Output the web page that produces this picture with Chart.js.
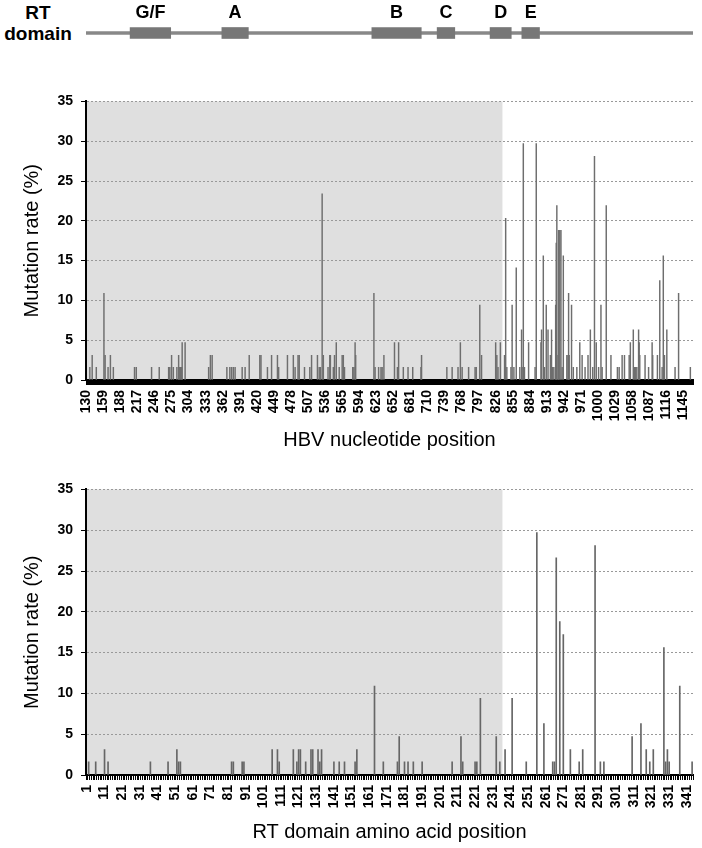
<!DOCTYPE html>
<html>
<head>
<meta charset="utf-8">
<script src="https://cdn.jsdelivr.net/npm/chart.js@4"></script>
<style>
  body { margin: 0; background: #fff; font-family: 'Liberation Sans', Arial, sans-serif; }
  #page { position: relative; width: 702px; height: 848px; }
  canvas { position: absolute; left: 0; }
  #rt { position: absolute; left: 0; top: 2px; width: 76px; text-align: center; font-weight: bold; font-size: 19px; line-height: 21px; }
</style>
</head>
<body>
<div id="page">
  <div id="rt">RT<br>domain</div>
  <canvas id="domain" width="702" height="50" style="top:0"></canvas>
  <canvas id="ntChart" width="702" height="367" style="top:85px"></canvas>
  <canvas id="aaChart" width="702" height="371" style="top:473px"></canvas>
</div>
<script>
// RT domain motifs (amino acid positions)
const motifNames = ['G/F', 'A', 'B', 'C', 'D', 'E'];
const motifStart = [26, 78, 163, 200, 230, 248];
const motifEnd = [48, 92, 190, 209, 241, 257];
const rtLength = 344;
const ntFirst = 130;

// nucleotide mutation rates (%)
const ntPositions = [136,140,147,160,162,167,171,176,212,215,241,254,270,272,275,278,284,287,288,290,292,293,298,
  338,341,344,369,374,377,380,383,395,400,407,425,427,438,445,455,457,472,482,485,490,492,501,510,513,523,526,528,
  531,533,541,544,545,550,552,555,560,565,567,569,583,585,587,588,619,621,627,631,633,636,654,659,661,669,677,685,
  699,700,743,752,762,766,769,780,791,793,799,802,826,828,830,834,841,843,845,852,854,857,861,867,870,871,873,875,
  882,893,895,903,904,907,909,912,915,919,921,923,925,928,929,930,932,933,935,937,939,941,947,949,950,951,955,958,
  964,969,973,978,983,987,991,994,997,1001,1005,1007,1014,1022,1033,1036,1041,1045,1053,1055,1060,1062,1064,1066,
  1069,1070,1071,1080,1086,1092,1093,1101,1105,1109,1111,1113,1117,1131,1137,1157];
const ntRates = [1.6,3.1,1.6,10.9,3.1,1.6,3.1,1.6,1.6,1.6,1.6,1.6,1.6,1.6,3.1,1.6,1.6,3.1,1.6,1.6,1.6,4.7,4.7,
  1.6,3.1,3.1,1.6,1.6,1.6,1.6,1.6,1.6,1.6,3.1,3.1,3.1,1.6,3.1,3.1,1.6,3.1,3.1,1.6,3.1,3.1,1.6,1.6,3.1,3.1,1.6,1.6,
  23.4,3.1,1.6,3.1,3.1,1.6,3.1,4.7,1.6,3.1,3.1,1.6,1.6,1.6,4.7,3.1,10.9,1.6,1.6,1.6,1.6,3.1,4.7,1.6,4.7,1.6,1.6,1.6,
  1.6,3.1,1.6,1.6,1.6,4.7,1.6,1.6,1.6,1.6,9.4,3.1,4.7,3.1,1.6,4.7,3.1,20.3,1.6,1.6,9.4,1.6,14.1,1.6,6.3,1.6,29.7,1.6,
  4.7,1.6,29.7,4.7,6.3,15.6,1.6,9.4,6.3,3.1,6.3,1.6,1.6,9.4,17.2,21.9,3.1,18.8,18.8,18.8,1.6,15.6,3.1,3.1,10.9,3.1,9.4,1.6,
  1.6,4.7,3.1,1.6,3.1,6.3,1.6,28.1,4.7,1.6,9.4,1.6,21.9,3.1,1.6,1.6,3.1,3.1,3.1,4.7,6.3,1.6,1.6,1.6,
  6.3,4.7,3.1,3.1,1.6,4.7,3.1,3.1,12.5,1.6,15.6,3.1,6.3,1.6,10.9,1.6];
const ntTickLabels = [130,159,188,217,246,275,304,333,362,391,420,449,478,507,536,565,594,623,652,681,710,739,768,
  797,826,855,884,913,942,971,1000,1029,1058,1087,1116,1145];

// amino acid mutation rates (%)
const aaPositions = [2,6,11,13,37,47,52,53,54,83,84,89,90,106,109,110,118,120,121,122,125,128,129,132,133,134,141,144,
  147,153,154,164,169,177,178,181,183,186,191,208,213,214,221,222,224,233,235,238,242,250,256,260,265,266,267,269,271,
  275,280,282,289,292,294,310,315,318,320,322,328,329,330,331,337,344];
const aaRates = [1.6,1.6,3.1,1.6,1.6,1.6,3.1,1.6,1.6,1.6,1.6,1.6,1.6,3.1,3.1,1.6,3.1,1.6,3.1,3.1,1.6,3.1,3.1,3.1,1.6,3.1,1.6,1.6,
  1.6,1.6,3.1,10.9,1.6,1.6,4.7,1.6,1.6,1.6,1.6,1.6,4.7,1.6,1.6,1.6,9.4,4.7,1.6,3.1,9.4,1.6,29.7,6.3,1.6,1.6,26.6,18.8,17.2,
  3.1,1.6,3.1,28.1,1.6,1.6,4.7,6.3,3.1,1.6,3.1,15.6,1.6,3.1,1.6,10.9,1.6];
const aaTickLabels = [1,11,21,31,41,51,61,71,81,91,101,111,121,131,141,151,161,171,181,191,201,211,221,231,241,251,
  261,271,281,291,301,311,321,331,341];

// last position of the shaded region
const shadedLastAa = 236;
const shadedLastNt = 837;

Chart.defaults.font.family = "'Liberation Sans', Arial, sans-serif";
Chart.defaults.color = '#000';

const ntLabels = [];
for (let p = ntFirst; p < ntFirst + rtLength * 3; p++) ntLabels.push(p);
const aaLabels = [];
for (let a = 1; a <= rtLength; a++) aaLabels.push(a);

const fill = (labels, pos, vals) => labels.map(l => {
  const i = pos.indexOf(l);
  return i < 0 ? null : vals[i];
});

const shadePlugin = {
  id: 'shade',
  beforeDraw(chart, args, opts) {
    const {ctx, chartArea, scales: {x}} = chart;
    const idx = chart.data.labels.indexOf(opts.last);
    const half = (x.getPixelForValue(1) - x.getPixelForValue(0)) / 2;
    const right = x.getPixelForValue(idx) + half;
    ctx.save();
    ctx.fillStyle = '#dfdfdf';
    ctx.fillRect(chartArea.left, chartArea.top, right - chartArea.left, chartArea.bottom - chartArea.top);
    ctx.restore();
  }
};

const motifLabels = {
  id: 'motifLabels',
  afterDraw(chart) {
    const {ctx, scales: {x}} = chart;
    ctx.save();
    ctx.font = "bold 18px 'Liberation Sans', Arial";
    ctx.textAlign = 'center';
    ctx.textBaseline = 'middle';
    ctx.fillStyle = '#000';
    motifNames.forEach((n, i) => {
      ctx.fillText(n, x.getPixelForValue((motifStart[i] + motifEnd[i]) / 2), 13);
    });
    ctx.restore();
  }
};

new Chart(document.getElementById('domain'), {
  type: 'bar',
  data: {
    labels: ['RT'],
    datasets: motifNames.map((n, i) => ({
      label: n,
      data: [[motifStart[i] - 0.5, motifEnd[i] + 0.5]],
      backgroundColor: '#777',
      barThickness: 11,
      grouped: false,
      order: 1
    })).concat([{
      label: 'RT',
      data: [[0.5, rtLength + 0.5]],
      backgroundColor: '#888',
      barThickness: 3,
      grouped: false,
      order: 2
    }])
  },
  options: {
    indexAxis: 'y',
    responsive: false,
    animation: false,
    layout: {padding: {left: 86, right: 9, top: 22, bottom: 6}},
    plugins: {legend: {display: false}, tooltip: {enabled: false}},
    scales: {
      x: {type: 'linear', min: 0.5, max: rtLength + 0.5, display: false},
      y: {display: false}
    }
  },
  plugins: [motifLabels]
});

function makeChart(id, labels, values, tickLabels, title, lastShaded, axisHeight, barColor, barWidth) {
  return new Chart(document.getElementById(id), {
    type: 'bar',
    data: {
      labels: labels,
      datasets: [{data: values, backgroundColor: barColor, barThickness: barWidth}]
    },
    options: {
      responsive: false,
      animation: false,
      layout: {padding: {top: 10, right: 9, left: 0, bottom: 0}},
      plugins: {legend: {display: false}, tooltip: {enabled: false}, shade: {last: lastShaded}},
      scales: {
        x: {
          grid: {drawOnChartArea: false, color: '#000', tickLength: 5, lineWidth: 1},
          border: {color: '#000', width: 2},
          ticks: {
            autoSkip: false, minRotation: 90, maxRotation: 90, padding: 5,
            font: {size: 14, weight: 'bold'}, color: '#000',
            callback(v) {
              const l = this.getLabelForValue(v);
              return tickLabels.includes(l) ? String(l) : '';
            }
          },
          title: {display: true, text: title, font: {size: 20}, color: '#000', padding: {top: 0, bottom: 0}},
          afterFit(s) {
            s.height = axisHeight;
            s.paddingLeft = 0;
            s.paddingRight = 0;
          }
        },
        y: {
          min: 0, max: 35,
          ticks: {stepSize: 5, padding: 8, font: {size: 14, weight: 'bold'}, color: '#000'},
          grid: {color: '#999', tickColor: '#000', tickLength: 5},
          border: {color: '#000', width: 2, dash: [2, 2]},
          title: {display: true, text: 'Mutation rate (%)', font: {size: 20}, color: '#000', padding: {top: 20}},
          afterFit(s) { s.width = 86; }
        }
      }
    },
    plugins: [shadePlugin]
  });
}

makeChart('ntChart', ntLabels, fill(ntLabels, ntPositions, ntRates), ntTickLabels,
  'HBV nucleotide position', shadedLastNt, 72, '#6e6e6e', 0.8);
makeChart('aaChart', aaLabels, fill(aaLabels, aaPositions, aaRates), aaTickLabels,
  'RT domain amino acid position', shadedLastAa, 69, '#666', 1);
</script>
</body>
</html>
